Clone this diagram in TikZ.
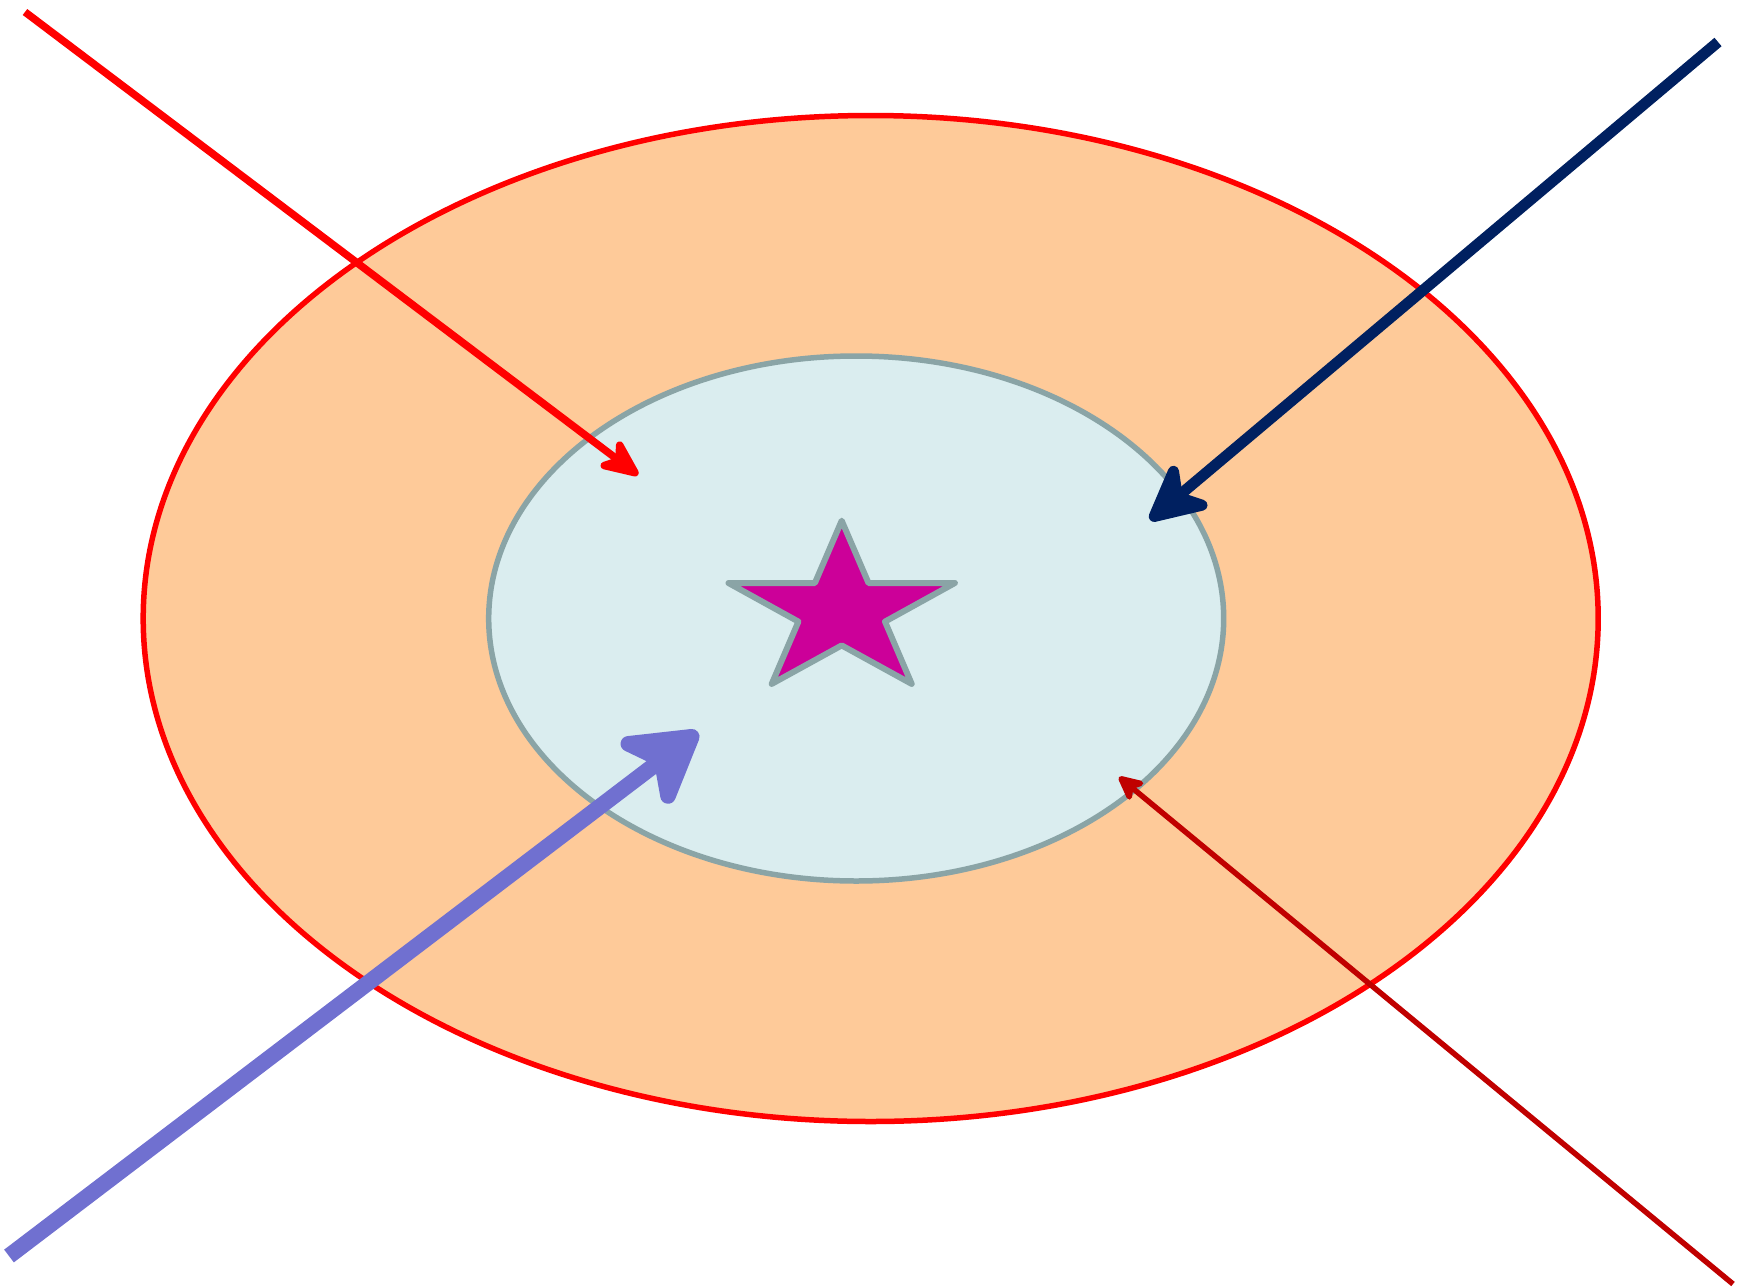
\documentclass[tikz,border=0pt]{standalone}
\usetikzlibrary{arrows.meta,shapes.geometric}
\definecolor{peach}{RGB}{254,202,153}
\definecolor{paleblue}{RGB}{218,237,239}
\definecolor{greyteal}{RGB}{138,164,166}
\definecolor{magentastar}{RGB}{204,0,153}
\definecolor{navyarrow}{RGB}{0,32,96}
\definecolor{violetarrow}{RGB}{112,112,208}
\definecolor{darkredarrow}{RGB}{192,0,0}
\tikzset{
  outerell/.style={ellipse, draw=red, fill=peach, line width=5.5pt, inner sep=0pt},
  innerell/.style={ellipse, draw=greyteal, fill=paleblue, line width=5.5pt, inner sep=0pt},
  starstyle/.style={draw=greyteal, fill=magentastar, line width=6pt, line join=round},
  arrowline/.style={line cap=butt}
}
\begin{document}
\begin{tikzpicture}[x=1pt,y=-1pt]
\useasboundingbox (0,0) rectangle (1738,1288);
\node[outerell, minimum width=1455pt, minimum height=1006pt] (outer) at (870.7,618.5) {};
\node[innerell, minimum width=735pt, minimum height=525pt] (inner) at (856.2,618.5) {};
\draw[starstyle] (841.7,520.7) -- (814.9,583.0) -- (728.5,583.0) -- (798.4,621.6) -- (771.7,683.9)
  -- (841.7,645.4) -- (911.7,683.9) -- (885.0,621.6) -- (954.9,583.0) -- (868.5,583.0) -- cycle;
% arrow endpoints
\coordinate (rs) at (25,12);
\coordinate (rt) at (638,475);
\coordinate (ns) at (1718,42);
\coordinate (nt) at (1150,520);
\coordinate (vs) at (9,1256);
\coordinate (vt) at (698,732);
\coordinate (ds) at (1733,1284);
\coordinate (dt) at (1119,777);
\draw[arrowline, red, line width=7.5pt, -{Stealth[length=48pt, width=42pt, inset=14pt, round]}] (rs) -- (rt);
\draw[arrowline, navyarrow, line width=11pt, -{Stealth[length=70pt, width=70pt, inset=21pt, round]}] (ns) -- (nt);
\draw[arrowline, violetarrow, line width=16pt, -{Stealth[length=88pt, width=104pt, inset=26pt, round]}] (vs) -- (vt);
\draw[arrowline, darkredarrow, line width=5.5pt, -{Stealth[length=31pt, width=30pt, inset=9pt, round]}] (ds) -- (dt);
\end{tikzpicture}
\end{document}
